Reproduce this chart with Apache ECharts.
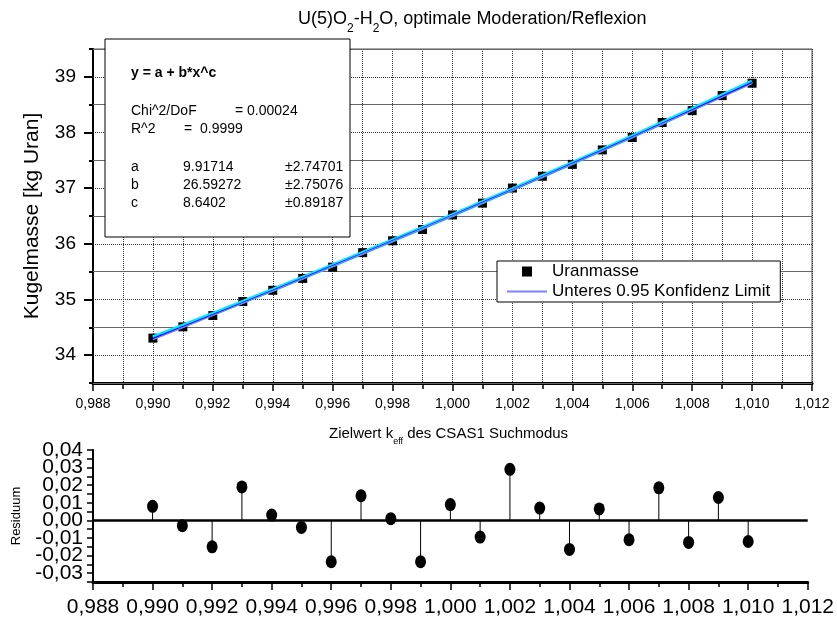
<!DOCTYPE html>
<html>
<head>
<meta charset="utf-8">
<script src="https://cdn.jsdelivr.net/npm/echarts@6/dist/echarts.min.js"></script>
<style>
html, body { margin: 0; padding: 0; background: #fff; }
#chart { width: 837px; height: 623px; }
</style>
</head>
<body>
<div id="chart"></div>
<script>
// k_eff target values of the CSAS1 search mode
const keff = [0.990, 0.991, 0.992, 0.993, 0.994, 0.995, 0.996, 0.997, 0.998, 0.999, 1.000,
              1.001, 1.002, 1.003, 1.004, 1.005, 1.006, 1.007, 1.008, 1.009, 1.010];
// sphere mass (kg uranium)
const uranmasse = [34.306, 34.509, 34.712, 34.963, 35.165, 35.379, 35.581, 35.842, 36.055, 36.257, 36.519,
                   36.731, 37.002, 37.214, 37.427, 37.687, 37.910, 38.180, 38.393, 38.663, 38.885];
// fitted curve y = a + b*x^c at the k_eff values
const fitCurve = [34.298, 34.512, 34.727, 34.944, 35.162, 35.383, 35.605, 35.828, 36.054, 36.281, 36.510,
                  36.741, 36.973, 37.207, 37.443, 37.681, 37.921, 38.162, 38.405, 38.650, 38.897];
// lower / upper 95 % confidence limits of the fit
const lowerLimit = [34.278, 34.495, 34.713, 34.932, 35.152, 35.374, 35.597, 35.820, 36.047, 36.274, 36.503,
                    36.734, 36.966, 37.199, 37.435, 37.672, 37.911, 38.150, 38.391, 38.633, 38.877];
const upperLimit = [34.318, 34.529, 34.741, 34.956, 35.172, 35.392, 35.613, 35.836, 36.061, 36.288, 36.517,
                    36.748, 36.980, 37.215, 37.451, 37.690, 37.931, 38.174, 38.419, 38.667, 38.917];
// fit residuals
const residuen = [0.0080, -0.0030, -0.0150, 0.0190, 0.0030, -0.0040, -0.0235, 0.0140, 0.0010, -0.0235, 0.0090,
                  -0.0095, 0.0290, 0.0070, -0.0165, 0.0065, -0.0110, 0.0185, -0.0125, 0.0130, -0.0120];

// axis tick labels
const massTicks = [34, 35, 36, 37, 38, 39];
const residTicksOdd = [-0.03, -0.01, 0.01, 0.03];
const residTicksEven = [-0.02, 0.00, 0.02, 0.04];
const residMinorTicks = [-0.035, -0.03, -0.025, -0.02, -0.015, -0.01, -0.005, 0, 0.005, 0.01, 0.015, 0.02, 0.025, 0.03, 0.035, 0.04];

// fit parameters shown in the results box
const fitFormula = 'y = a + b*x^c';
const fitStats = [['Chi^2/DoF', '= 0.00024'], ['R^2', '=  0.9999']];
const fitParams = [['a', '9.91714', '\u00b12.74701'], ['b', '26.59272', '\u00b12.75076'], ['c', '8.6402', '\u00b10.89187']];

const FONT = '"Liberation Sans", Arial, Helvetica, sans-serif';
const pairs = arr => keff.map((x, i) => [x, arr[i]]);
const commaFmt = d => v => v.toFixed(d).replace('.', ',').replace('-0,00', '0,00');

const chart = echarts.init(document.getElementById('chart'), null, { renderer: 'canvas' });

const dottedGrid = { show: true, lineStyle: { color: '#333', width: 1, type: [1, 1] } };

// results box
const boxX = 105, boxY = 39;
const boxText = [];
const addText = (x, y, text, weight) => boxText.push({
  type: 'text', z: 101, x, y,
  style: { text, font: (weight || 'normal') + ' 14px ' + FONT, fill: '#000', verticalAlign: 'middle' }
});
addText(boxX + 26, 73, fitFormula, 'bold');
fitStats.forEach((r, i) => {
  const y = 111 + i * 18;
  addText(boxX + 26, y, r[0]);
  addText(i === 0 ? 235 : 184, y, r[1]);
});
fitParams.forEach((r, i) => {
  const y = 167 + i * 18;
  addText(boxX + 26, y, r[0]);
  addText(183, y, r[1]);
  addText(285, y, r[2]);
});

// residual axis labels are split over two overlaid axes so that none is dropped
const residLabelAxis = (values, withLine) => ({
  type: 'value', gridIndex: 1, position: 'left', min: -0.035, max: 0.04,
  axisLine: { show: withLine, lineStyle: { color: '#000', width: 2 } },
  axisTick: { show: withLine, length: 6, customValues: residMinorTicks, lineStyle: { color: '#000', width: 1.5 } },
  axisLabel: { fontSize: 21, margin: 10, color: '#000', hideOverlap: false,
               customValues: values, formatter: commaFmt(2) },
  splitLine: { show: false }
});

const option = {
  animation: false,
  backgroundColor: '#fff',
  textStyle: { fontFamily: FONT, color: '#000' },
  title: [
    {
      left: 293, top: 5,
      text: '{n|U(5)O}{s|2}{n|-H}{s|2}{n|O, optimale Moderation/Reflexion}',
      textStyle: {
        rich: {
          n: { fontSize: 18, fontWeight: 'normal', lineHeight: 24, verticalAlign: 'top', color: '#000', fontFamily: FONT },
          s: { fontSize: 12, fontWeight: 'normal', lineHeight: 12, padding: [13, 0, 0, 0], verticalAlign: 'top', color: '#000', fontFamily: FONT }
        }
      }
    },
    {
      left: 324, top: 421,
      text: '{n|Zielwert k}{s|eff}{n| des CSAS1 Suchmodus}',
      textStyle: {
        rich: {
          n: { fontSize: 15, fontWeight: 'normal', lineHeight: 19, verticalAlign: 'top', color: '#000', fontFamily: FONT },
          s: { fontSize: 9, fontWeight: 'normal', lineHeight: 9, padding: [11, 0, 0, 0], verticalAlign: 'top', color: '#000', fontFamily: FONT }
        }
      }
    }
  ],
  legend: {
    left: 497, top: 261,
    orient: 'vertical',
    padding: [2, 10, 2, 10],
    itemGap: 3,
    itemWidth: 40, itemHeight: 10,
    backgroundColor: '#fff',
    borderColor: '#000', borderWidth: 1, borderRadius: 0,
    textStyle: { fontSize: 17, color: '#000', fontFamily: FONT },
    data: [
      { name: 'Uranmasse', icon: 'path://M0,0L10,0L10,10L0,10Z' },
      { name: 'Unteres 0.95 Konfidenz Limit', icon: 'path://M0,0L40,0L40,2L0,2Z' }
    ]
  },
  grid: [
    { left: 93, right: 25, top: 49, height: 334, show: true, borderColor: '#555', borderWidth: 1, backgroundColor: 'transparent' },
    { left: 93, right: 25, top: 450, height: 132 }
  ],
  xAxis: [
    {
      type: 'value', gridIndex: 0, min: 0.988, max: 1.012, interval: 0.002,
      axisLine: { show: true, onZero: false, lineStyle: { color: '#000', width: 3 } },
      axisTick: { show: true, length: 8, lineStyle: { color: '#000', width: 1.5 } },
      minorTick: { show: true, splitNumber: 2, length: 6, lineStyle: { color: '#000', width: 1.5 } },
      axisLabel: { fontSize: 14, margin: 14, color: '#000', hideOverlap: false, showMinLabel: true, showMaxLabel: true, formatter: commaFmt(3) },
      splitLine: dottedGrid,
      minorSplitLine: dottedGrid
    },
    {
      type: 'value', gridIndex: 1, min: 0.988, max: 1.012, interval: 0.002,
      axisLine: { show: true, onZero: false, lineStyle: { color: '#000', width: 3 } },
      axisTick: { show: true, length: 8, lineStyle: { color: '#000', width: 1.5 } },
      minorTick: { show: true, splitNumber: 2, length: 5, lineStyle: { color: '#000', width: 1.5 } },
      axisLabel: { fontSize: 21, margin: 15, color: '#000', hideOverlap: false, showMinLabel: true, showMaxLabel: true, formatter: commaFmt(3) },
      splitLine: { show: false }
    }
  ],
  yAxis: [
    {
      type: 'value', gridIndex: 0, min: 33.5, max: 39.5, interval: 0.5,
      name: 'Kugelmasse [kg Uran]', nameLocation: 'middle', nameGap: 50,
      nameTextStyle: { fontSize: 21, color: '#000' },
      axisLine: { show: true, lineStyle: { color: '#000', width: 2 } },
      axisTick: { show: true, length: 9, customValues: massTicks, lineStyle: { color: '#000', width: 2 } },
      axisLabel: { fontSize: 19, margin: 17, color: '#000', customValues: massTicks, formatter: v => String(Math.round(v)) },
      splitLine: dottedGrid
    },
    {
      // half-unit lines drawn solid over the dotted grid
      type: 'value', gridIndex: 0, position: 'left', min: 33.5, max: 39.5, interval: 1, z: 1,
      axisLine: { show: false },
      axisTick: { show: true, length: 4, lineStyle: { color: '#000', width: 2 } },
      axisLabel: { show: false },
      splitLine: { show: true, lineStyle: { color: '#666', width: 1.2, type: 'solid' } }
    },
    Object.assign(residLabelAxis(residTicksOdd, true), {
      name: 'Residuum', nameLocation: 'middle', nameGap: 70,
      nameTextStyle: { fontSize: 13, color: '#000', fontFamily: FONT }
    }),
    residLabelAxis(residTicksEven, false)
  ],
  series: [
    {
      name: 'Uranmasse', type: 'scatter', xAxisIndex: 0, yAxisIndex: 0,
      symbol: 'rect', symbolSize: 9,
      itemStyle: { color: '#000', opacity: 1 },
      data: pairs(uranmasse), z: 3
    },
    {
      name: 'Oberes 0.95 Konfidenz Limit', type: 'line', xAxisIndex: 0, yAxisIndex: 0,
      showSymbol: false, symbol: 'none',
      lineStyle: { color: '#00e8ff', width: 4 },
      data: pairs(upperLimit), z: 4
    },
    {
      name: 'Anpassung', type: 'line', xAxisIndex: 0, yAxisIndex: 0,
      showSymbol: false, symbol: 'none',
      lineStyle: { color: '#1010ff', width: 1.6 },
      data: pairs(fitCurve), z: 5
    },
    {
      name: 'Unteres 0.95 Konfidenz Limit', type: 'line', xAxisIndex: 0, yAxisIndex: 0,
      showSymbol: false, symbol: 'none',
      lineStyle: { color: '#8080ff', width: 1.2 },
      itemStyle: { color: '#8080ff' },
      data: pairs(lowerLimit), z: 5
    },
    {
      name: 'Residuum', type: 'bar', xAxisIndex: 1, yAxisIndex: 2,
      barWidth: 1,
      itemStyle: { color: '#000' },
      data: pairs(residuen),
      markLine: {
        silent: true, symbol: 'none',
        label: { show: false },
        lineStyle: { color: '#000', width: 2.5, type: 'solid' },
        data: [{ yAxis: 0 }]
      }
    },
    {
      name: 'Residuum Punkte', type: 'scatter', xAxisIndex: 1, yAxisIndex: 2,
      symbol: 'path://M0,6A5,6 0 1,0 10,6A5,6 0 1,0 0,6Z', symbolSize: [11, 13], symbolKeepAspect: false,
      itemStyle: { color: '#000', opacity: 1 },
      data: pairs(residuen), z: 4
    }
  ],
  graphic: [
    { type: 'rect', z: 100, shape: { x: boxX, y: boxY, width: 245, height: 198 }, style: { fill: '#fff', stroke: '#000', lineWidth: 1 } }
  ].concat(boxText)
};

chart.setOption(option);
</script>
</body>
</html>
